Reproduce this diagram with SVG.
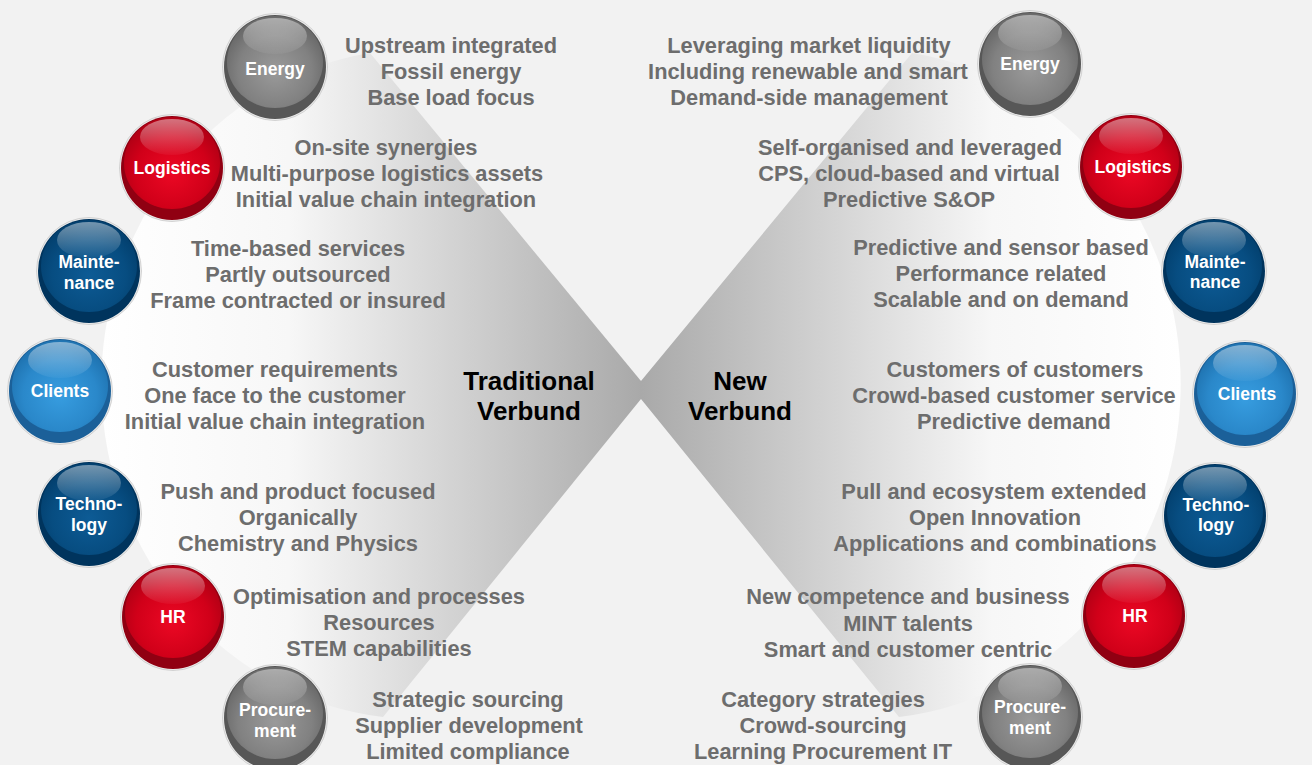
<svg xmlns="http://www.w3.org/2000/svg" width="1312" height="765" viewBox="0 0 1312 765">
<defs>
<style>
.t{font-family:"Liberation Sans",Arial,sans-serif;font-weight:bold;font-size:21.8px;fill:#6d6d6d;text-anchor:middle}
.s{font-family:"Liberation Sans",Arial,sans-serif;font-weight:bold;font-size:17.5px;fill:#ffffff;text-anchor:middle}
.c{font-family:"Liberation Sans",Arial,sans-serif;font-weight:bold;font-size:26px;fill:#000000;text-anchor:middle}
.ring{fill:#ececec;stroke:#c4c4c4;stroke-width:0.7}
</style>
<linearGradient id="gLeft" gradientUnits="userSpaceOnUse" x1="100" y1="0" x2="641" y2="0">
<stop offset="0" stop-color="#ffffff"/>
<stop offset="0.35" stop-color="#f7f7f7"/>
<stop offset="1" stop-color="#a9a9a9"/>
</linearGradient>
<linearGradient id="gRight" gradientUnits="userSpaceOnUse" x1="641" y1="0" x2="1182" y2="0">
<stop offset="0" stop-color="#a9a9a9"/>
<stop offset="0.65" stop-color="#f7f7f7"/>
<stop offset="1" stop-color="#ffffff"/>
</linearGradient>
<radialGradient id="bGrey" cx="50%" cy="60%" r="55%">
<stop offset="0" stop-color="#9a9a9a"/>
<stop offset="0.7" stop-color="#818181"/>
<stop offset="1" stop-color="#6b6b6b"/>
</radialGradient>
<radialGradient id="bRed" cx="50%" cy="60%" r="55%">
<stop offset="0" stop-color="#ec0824"/>
<stop offset="0.7" stop-color="#d10019"/>
<stop offset="1" stop-color="#b40015"/>
</radialGradient>
<radialGradient id="bNavy" cx="50%" cy="60%" r="55%">
<stop offset="0" stop-color="#0d5b95"/>
<stop offset="0.7" stop-color="#074d81"/>
<stop offset="1" stop-color="#034170"/>
</radialGradient>
<radialGradient id="bBlue" cx="50%" cy="60%" r="55%">
<stop offset="0" stop-color="#379de0"/>
<stop offset="0.7" stop-color="#2a88ca"/>
<stop offset="1" stop-color="#2075b3"/>
</radialGradient>
<linearGradient id="hl" x1="0" y1="0" x2="0" y2="1">
<stop offset="0" stop-color="#ffffff" stop-opacity="0.45"/>
<stop offset="1" stop-color="#ffffff" stop-opacity="0.04"/>
</linearGradient>
</defs>
<rect x="0" y="0" width="1312" height="765" fill="#f2f2f2"/>
<g id="shapes">
<path d="M641,381 L641,399 L383,717 A317 335 0 0 1 370,53 Z" fill="url(#gLeft)"/>
<path d="M641,381 L912,53 A317 335 0 0 1 899,717 L641,399 Z" fill="url(#gRight)"/>
<text class="c" x="529" y="390">Traditional</text>
<text class="c" x="529" y="420">Verbund</text>
<text class="c" x="740" y="390">New</text>
<text class="c" x="740" y="420">Verbund</text>
</g>
<g id="connectors"/>

<g id="l-energy">
<g transform="translate(275,67)"><ellipse class="ring" rx="52.5" ry="53.5"/><ellipse rx="51" ry="52" fill="#575757"/><ellipse cy="-5" rx="48" ry="46" fill="url(#bGrey)"/><ellipse cy="-31" rx="32" ry="18" fill="url(#hl)"/></g>
<text class="s" x="275" y="75">Energy</text>
<text class="t" x="451" y="53">Upstream integrated</text>
<text class="t" x="451" y="79">Fossil energy</text>
<text class="t" x="451" y="105">Base load focus</text>
</g>
<g id="l-logistics">
<g transform="translate(172,168)"><ellipse class="ring" rx="52.5" ry="53.5"/><ellipse rx="51" ry="52" fill="#900012"/><ellipse cy="-5" rx="48" ry="46" fill="url(#bRed)"/><ellipse cy="-31" rx="32" ry="18" fill="url(#hl)"/></g>
<text class="s" x="172" y="174">Logistics</text>
<text class="t" x="386" y="155">On-site synergies</text>
<text class="t" x="387" y="181">Multi-purpose logistics assets</text>
<text class="t" x="386" y="207">Initial value chain integration</text>
</g>
<g id="l-maintenance">
<g transform="translate(89,271)"><ellipse class="ring" rx="52.5" ry="53.5"/><ellipse rx="51" ry="52" fill="#00345d"/><ellipse cy="-5" rx="48" ry="46" fill="url(#bNavy)"/><ellipse cy="-31" rx="32" ry="18" fill="url(#hl)"/></g>
<text class="s" x="89" y="268">Mainte-</text>
<text class="s" x="89" y="289">nance</text>
<text class="t" x="298" y="256">Time-based services</text>
<text class="t" x="298" y="282">Partly outsourced</text>
<text class="t" x="298" y="308">Frame contracted or insured</text>
</g>
<g id="l-clients">
<g transform="translate(60,391)"><ellipse class="ring" rx="52.5" ry="53.5"/><ellipse rx="51" ry="52" fill="#1b6099"/><ellipse cy="-5" rx="48" ry="46" fill="url(#bBlue)"/><ellipse cy="-31" rx="32" ry="18" fill="url(#hl)"/></g>
<text class="s" x="60" y="397">Clients</text>
<text class="t" x="275" y="377">Customer requirements</text>
<text class="t" x="275" y="403">One face to the customer</text>
<text class="t" x="275" y="429">Initial value chain integration</text>
</g>
<g id="l-technology">
<g transform="translate(89,514)"><ellipse class="ring" rx="52.5" ry="53.5"/><ellipse rx="51" ry="52" fill="#00345d"/><ellipse cy="-5" rx="48" ry="46" fill="url(#bNavy)"/><ellipse cy="-31" rx="32" ry="18" fill="url(#hl)"/></g>
<text class="s" x="89" y="510">Techno-</text>
<text class="s" x="89" y="531">logy</text>
<text class="t" x="298" y="499">Push and product focused</text>
<text class="t" x="298" y="525">Organically</text>
<text class="t" x="298" y="551">Chemistry and Physics</text>
</g>
<g id="l-hr">
<g transform="translate(173,617)"><ellipse class="ring" rx="52.5" ry="53.5"/><ellipse rx="51" ry="52" fill="#900012"/><ellipse cy="-5" rx="48" ry="46" fill="url(#bRed)"/><ellipse cy="-31" rx="32" ry="18" fill="url(#hl)"/></g>
<text class="s" x="173" y="623">HR</text>
<text class="t" x="379" y="604">Optimisation and processes</text>
<text class="t" x="379" y="630">Resources</text>
<text class="t" x="379" y="656">STEM capabilities</text>
</g>
<g id="l-procurement">
<g transform="translate(275,718)"><ellipse class="ring" rx="52.5" ry="53.5"/><ellipse rx="51" ry="52" fill="#575757"/><ellipse cy="-5" rx="48" ry="46" fill="url(#bGrey)"/><ellipse cy="-31" rx="32" ry="18" fill="url(#hl)"/></g>
<text class="s" x="275" y="716">Procure-</text>
<text class="s" x="275" y="737">ment</text>
<text class="t" x="468" y="707">Strategic sourcing</text>
<text class="t" x="469" y="733">Supplier development</text>
<text class="t" x="468" y="759">Limited compliance</text>
</g>

<g id="r-energy">
<g transform="translate(1030,64)"><ellipse class="ring" rx="52.5" ry="53.5"/><ellipse rx="51" ry="52" fill="#575757"/><ellipse cy="-5" rx="48" ry="46" fill="url(#bGrey)"/><ellipse cy="-31" rx="32" ry="18" fill="url(#hl)"/></g>
<text class="s" x="1030" y="70">Energy</text>
<text class="t" x="809" y="53">Leveraging market liquidity</text>
<text class="t" x="808" y="79">Including renewable and smart</text>
<text class="t" x="809" y="105">Demand-side management</text>
</g>
<g id="r-logistics">
<g transform="translate(1131,167)"><ellipse class="ring" rx="52.5" ry="53.5"/><ellipse rx="51" ry="52" fill="#900012"/><ellipse cy="-5" rx="48" ry="46" fill="url(#bRed)"/><ellipse cy="-31" rx="32" ry="18" fill="url(#hl)"/></g>
<text class="s" x="1133" y="173">Logistics</text>
<text class="t" x="910" y="155">Self-organised and leveraged</text>
<text class="t" x="909" y="181">CPS, cloud-based and virtual</text>
<text class="t" x="909" y="207">Predictive S&amp;OP</text>
</g>
<g id="r-maintenance">
<g transform="translate(1214,271)"><ellipse class="ring" rx="52.5" ry="53.5"/><ellipse rx="51" ry="52" fill="#00345d"/><ellipse cy="-5" rx="48" ry="46" fill="url(#bNavy)"/><ellipse cy="-31" rx="32" ry="18" fill="url(#hl)"/></g>
<text class="s" x="1215" y="268">Mainte-</text>
<text class="s" x="1215" y="288">nance</text>
<text class="t" x="1001" y="255">Predictive and sensor based</text>
<text class="t" x="1001" y="281">Performance related</text>
<text class="t" x="1001" y="307">Scalable and on demand</text>
</g>
<g id="r-clients">
<g transform="translate(1245,394)"><ellipse class="ring" rx="52.5" ry="53.5"/><ellipse rx="51" ry="52" fill="#1b6099"/><ellipse cy="-5" rx="48" ry="46" fill="url(#bBlue)"/><ellipse cy="-31" rx="32" ry="18" fill="url(#hl)"/></g>
<text class="s" x="1247" y="400">Clients</text>
<text class="t" x="1015" y="377">Customers of customers</text>
<text class="t" x="1014" y="403">Crowd-based customer service</text>
<text class="t" x="1014" y="429">Predictive demand</text>
</g>
<g id="r-technology">
<g transform="translate(1215,516)"><ellipse class="ring" rx="52.5" ry="53.5"/><ellipse rx="51" ry="52" fill="#00345d"/><ellipse cy="-5" rx="48" ry="46" fill="url(#bNavy)"/><ellipse cy="-31" rx="32" ry="18" fill="url(#hl)"/></g>
<text class="s" x="1216" y="511">Techno-</text>
<text class="s" x="1216" y="531">logy</text>
<text class="t" x="994" y="499">Pull and ecosystem extended</text>
<text class="t" x="995" y="525">Open Innovation</text>
<text class="t" x="995" y="551">Applications and combinations</text>
</g>
<g id="r-hr">
<g transform="translate(1134,616)"><ellipse class="ring" rx="52.5" ry="53.5"/><ellipse rx="51" ry="52" fill="#900012"/><ellipse cy="-5" rx="48" ry="46" fill="url(#bRed)"/><ellipse cy="-31" rx="32" ry="18" fill="url(#hl)"/></g>
<text class="s" x="1135" y="622">HR</text>
<text class="t" x="908" y="604">New competence and business</text>
<text class="t" x="908" y="631">MINT talents</text>
<text class="t" x="908" y="657">Smart and customer centric</text>
</g>
<g id="r-procurement">
<g transform="translate(1030,717)"><ellipse class="ring" rx="52.5" ry="53.5"/><ellipse rx="51" ry="52" fill="#575757"/><ellipse cy="-5" rx="48" ry="46" fill="url(#bGrey)"/><ellipse cy="-31" rx="32" ry="18" fill="url(#hl)"/></g>
<text class="s" x="1030" y="713">Procure-</text>
<text class="s" x="1030" y="734">ment</text>
<text class="t" x="823" y="707">Category strategies</text>
<text class="t" x="823" y="733">Crowd-sourcing</text>
<text class="t" x="823" y="759">Learning Procurement IT</text>
</g>
</svg>
